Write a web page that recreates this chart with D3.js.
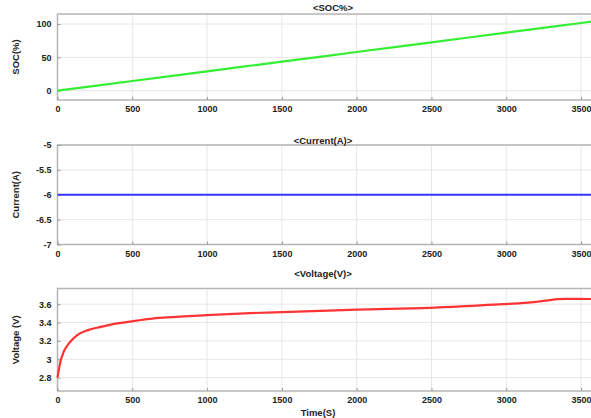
<!DOCTYPE html>
<html>
<head>
<meta charset="utf-8">
<script src="https://cdn.jsdelivr.net/npm/d3@7"></script>
<style>
  body { margin: 0; background: #fff; }
  svg { display: block; font-family: "Liberation Sans", Arial, sans-serif; }
  .tick text { font-size: 9px; font-weight: bold; fill: #222; }
</style>
</head>
<body>
<div id="chart"></div>
<script>
// time axis (s)
const timeTicks = [0, 500, 1000, 1500, 2000, 2500, 3000, 3500];

// SOC %
const socTime = [0, 500, 1000, 1500, 2000, 2500, 3000, 3500, 3600];
const socVal = [0, 14.5, 29, 43.5, 58, 72.5, 87, 101.5, 104.4];

// current A
const curTime = [0, 3600];
const curVal = [-6, -6];
const curTicks = [-7, -6.5, -6, -5.5, -5];

// voltage V
const voltTime = [0, 19, 41, 75, 130, 209, 297, 364, 485, 618, 730, 997, 1287, 1554, 2000, 2490, 2980, 3100, 3200, 3280, 3340, 3400, 3600];
const voltVal = [2.80, 2.97, 3.08, 3.17, 3.26, 3.32, 3.355, 3.38, 3.41, 3.44, 3.455, 3.48, 3.502, 3.515, 3.54, 3.56, 3.60, 3.61, 3.625, 3.64, 3.655, 3.658, 3.655];

const W = 591, H = 418;
const svg = d3.select("#chart").append("svg")
  .attr("width", W).attr("height", H);

const x = d3.scaleLinear().domain([0, 3600]).range([57.5, 596]);

function panel(opts) {
  let y = d3.scaleLinear().domain(opts.domain).range([opts.bottom, opts.top]);
  let g = svg.append("g");

  // grid
  g.selectAll(".vg").data(timeTicks).enter().append("line")
    .attr("x1", d => x(d)).attr("x2", d => x(d))
    .attr("y1", opts.top).attr("y2", opts.bottom)
    .attr("stroke", "#e6e6e6").attr("stroke-width", 1);
  g.selectAll(".hg").data(opts.ticks).enter().append("line")
    .attr("x1", x(0)).attr("x2", x(3600))
    .attr("y1", d => y(d)).attr("y2", d => y(d))
    .attr("stroke", "#e6e6e6").attr("stroke-width", 1);

  // frame
  g.append("rect")
    .attr("x", x(0)).attr("y", opts.top)
    .attr("width", x(3600) - x(0)).attr("height", opts.bottom - opts.top)
    .attr("fill", "none").attr("stroke", "#b5b5b5").attr("stroke-width", 1.5);

  // axes
  let xAxis = d3.axisBottom(x).tickValues(timeTicks).tickSize(-3).tickPadding(6).tickFormat(d3.format("d"));
  g.append("g").attr("transform", "translate(0," + opts.bottom + ")").call(xAxis)
    .call(a => a.select(".domain").remove())
    .call(a => a.selectAll(".tick line").attr("stroke", "#999"));

  let yAxis = d3.axisLeft(y).tickValues(opts.ticks).tickSize(-3).tickPadding(6).tickFormat(opts.fmt);
  g.append("g").attr("transform", "translate(" + x(0) + ",0)").call(yAxis)
    .call(a => a.select(".domain").remove())
    .call(a => a.selectAll(".tick line").attr("stroke", "#999"));

  // series
  let line = d3.line().x(d => x(d[0])).y(d => y(d[1])).curve(d3.curveMonotoneX);
  g.append("path")
    .datum(d3.zip(opts.t, opts.v))
    .attr("d", line)
    .attr("fill", "none")
    .attr("stroke", opts.color)
    .attr("stroke-width", 2.2);

  // title
  g.append("text")
    .attr("x", opts.titleX).attr("y", opts.titleY)
    .attr("text-anchor", "middle")
    .style("font-size", "9.5px").style("font-weight", "bold").attr("fill", "#222")
    .text(opts.title);

  // y label
  g.append("text")
    .attr("transform", "translate(" + opts.labelX + "," + ((opts.top + opts.bottom) / 2) + ") rotate(-90)")
    .attr("text-anchor", "middle")
    .style("font-size", "9.5px").style("font-weight", "bold").attr("fill", "#222")
    .text(opts.ylabel);
}

panel({
  top: 14, bottom: 100, domain: [-14, 115], ticks: [0, 50, 100], fmt: d3.format("d"),
  t: socTime, v: socVal, color: "#33ee33",
  title: "<SOC%>", titleX: 333, titleY: 10.5, ylabel: "SOC(%)", labelX: 19
});

panel({
  top: 145, bottom: 244.5, domain: [-7, -5], ticks: curTicks, fmt: d => String(d),
  t: curTime, v: curVal, color: "#3535ff",
  title: "<Current(A)>", titleX: 323, titleY: 143.5, ylabel: "Current(A)", labelX: 19
});

panel({
  top: 288.5, bottom: 391, domain: [2.655, 3.77], ticks: [2.8, 3, 3.2, 3.4, 3.6], fmt: d => String(d),
  t: voltTime, v: voltVal, color: "#ff3333",
  title: "<Voltage(V)>", titleX: 323, titleY: 276.5, ylabel: "Voltage (V)", labelX: 19
});

// x label
svg.append("text")
  .attr("x", 318).attr("y", 416)
  .attr("text-anchor", "middle")
  .style("font-size", "9.5px").style("font-weight", "bold").attr("fill", "#222")
  .text("Time(S)");
</script>
</body>
</html>
